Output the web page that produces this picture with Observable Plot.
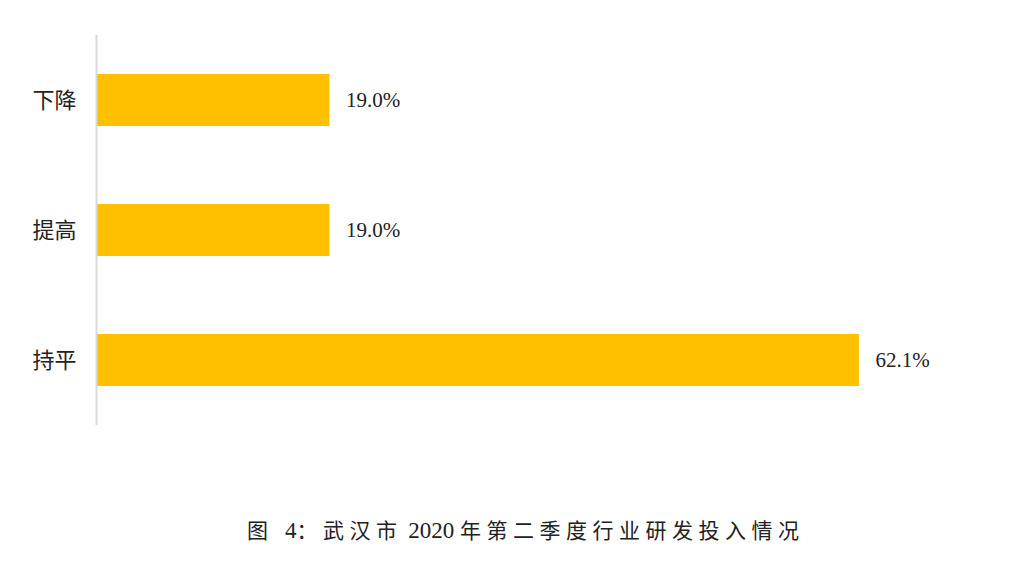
<!DOCTYPE html>
<html><head><meta charset="utf-8">
<script src="https://cdn.jsdelivr.net/npm/d3@7"></script>
<script src="https://cdn.jsdelivr.net/npm/@observablehq/plot@0.6"></script>
<style>
body{margin:0;background:#fff;}
#caption{font-family:"Noto Sans CJK SC",sans-serif;font-size:21px;color:#222;text-align:left;padding-left:247px;margin-top:46px;line-height:26px;white-space:pre;}
#caption .c{letter-spacing:5.5px;}
#caption .n{font-family:"Liberation Serif",serif;font-size:23px;}
</style>
</head><body>
<div id="chart"></div>
<div id="caption"></div>
<script>
const categories = ["下降", "提高", "持平"];
const values = [19.0, 19.0, 62.1];
const labels = ["19.0%", "19.0%", "62.1%"];
const captionParts = [["c", "图"], ["n", "  4"], ["c", "：武汉市"], ["n", " 2020 "], ["c", "年第二季度行业研发投入情况"]];
const data = categories.map((c, i) => ({category: c, value: values[i], label: labels[i]}));

const cap = document.getElementById("caption");
captionParts.forEach(([cls, t]) => {
  const s = document.createElement("span");
  s.className = cls;
  s.textContent = t;
  cap.appendChild(s);
});

const chart = Plot.plot({
  width: 1015,
  height: 470,
  marginTop: 35,
  marginBottom: 45,
  marginLeft: 96,
  marginRight: 59,
  style: {background: "#fff"},
  x: {domain: [0, 70], axis: null},
  y: {domain: categories, paddingInner: 0.6, paddingOuter: 0.3, label: null, tickSize: 0, tickPadding: 20},
  marks: [
    Plot.barX(data, {x: "value", y: "category", fill: "#FFC000"}),
    Plot.ruleX([0], {stroke: "#d9d9d9", strokeWidth: 2}),
    Plot.text(data, {x: "value", y: "category", text: "label", dx: 16, textAnchor: "start",
      fontFamily: "Liberation Serif", fontSize: 21, fill: "#222"}),
    Plot.axisY({tickSize: 0, tickPadding: 20, fontFamily: "Noto Sans CJK SC", fontSize: 22, color: "#222", label: null})
  ]
});
document.getElementById("chart").appendChild(chart);
</script>
</body></html>
